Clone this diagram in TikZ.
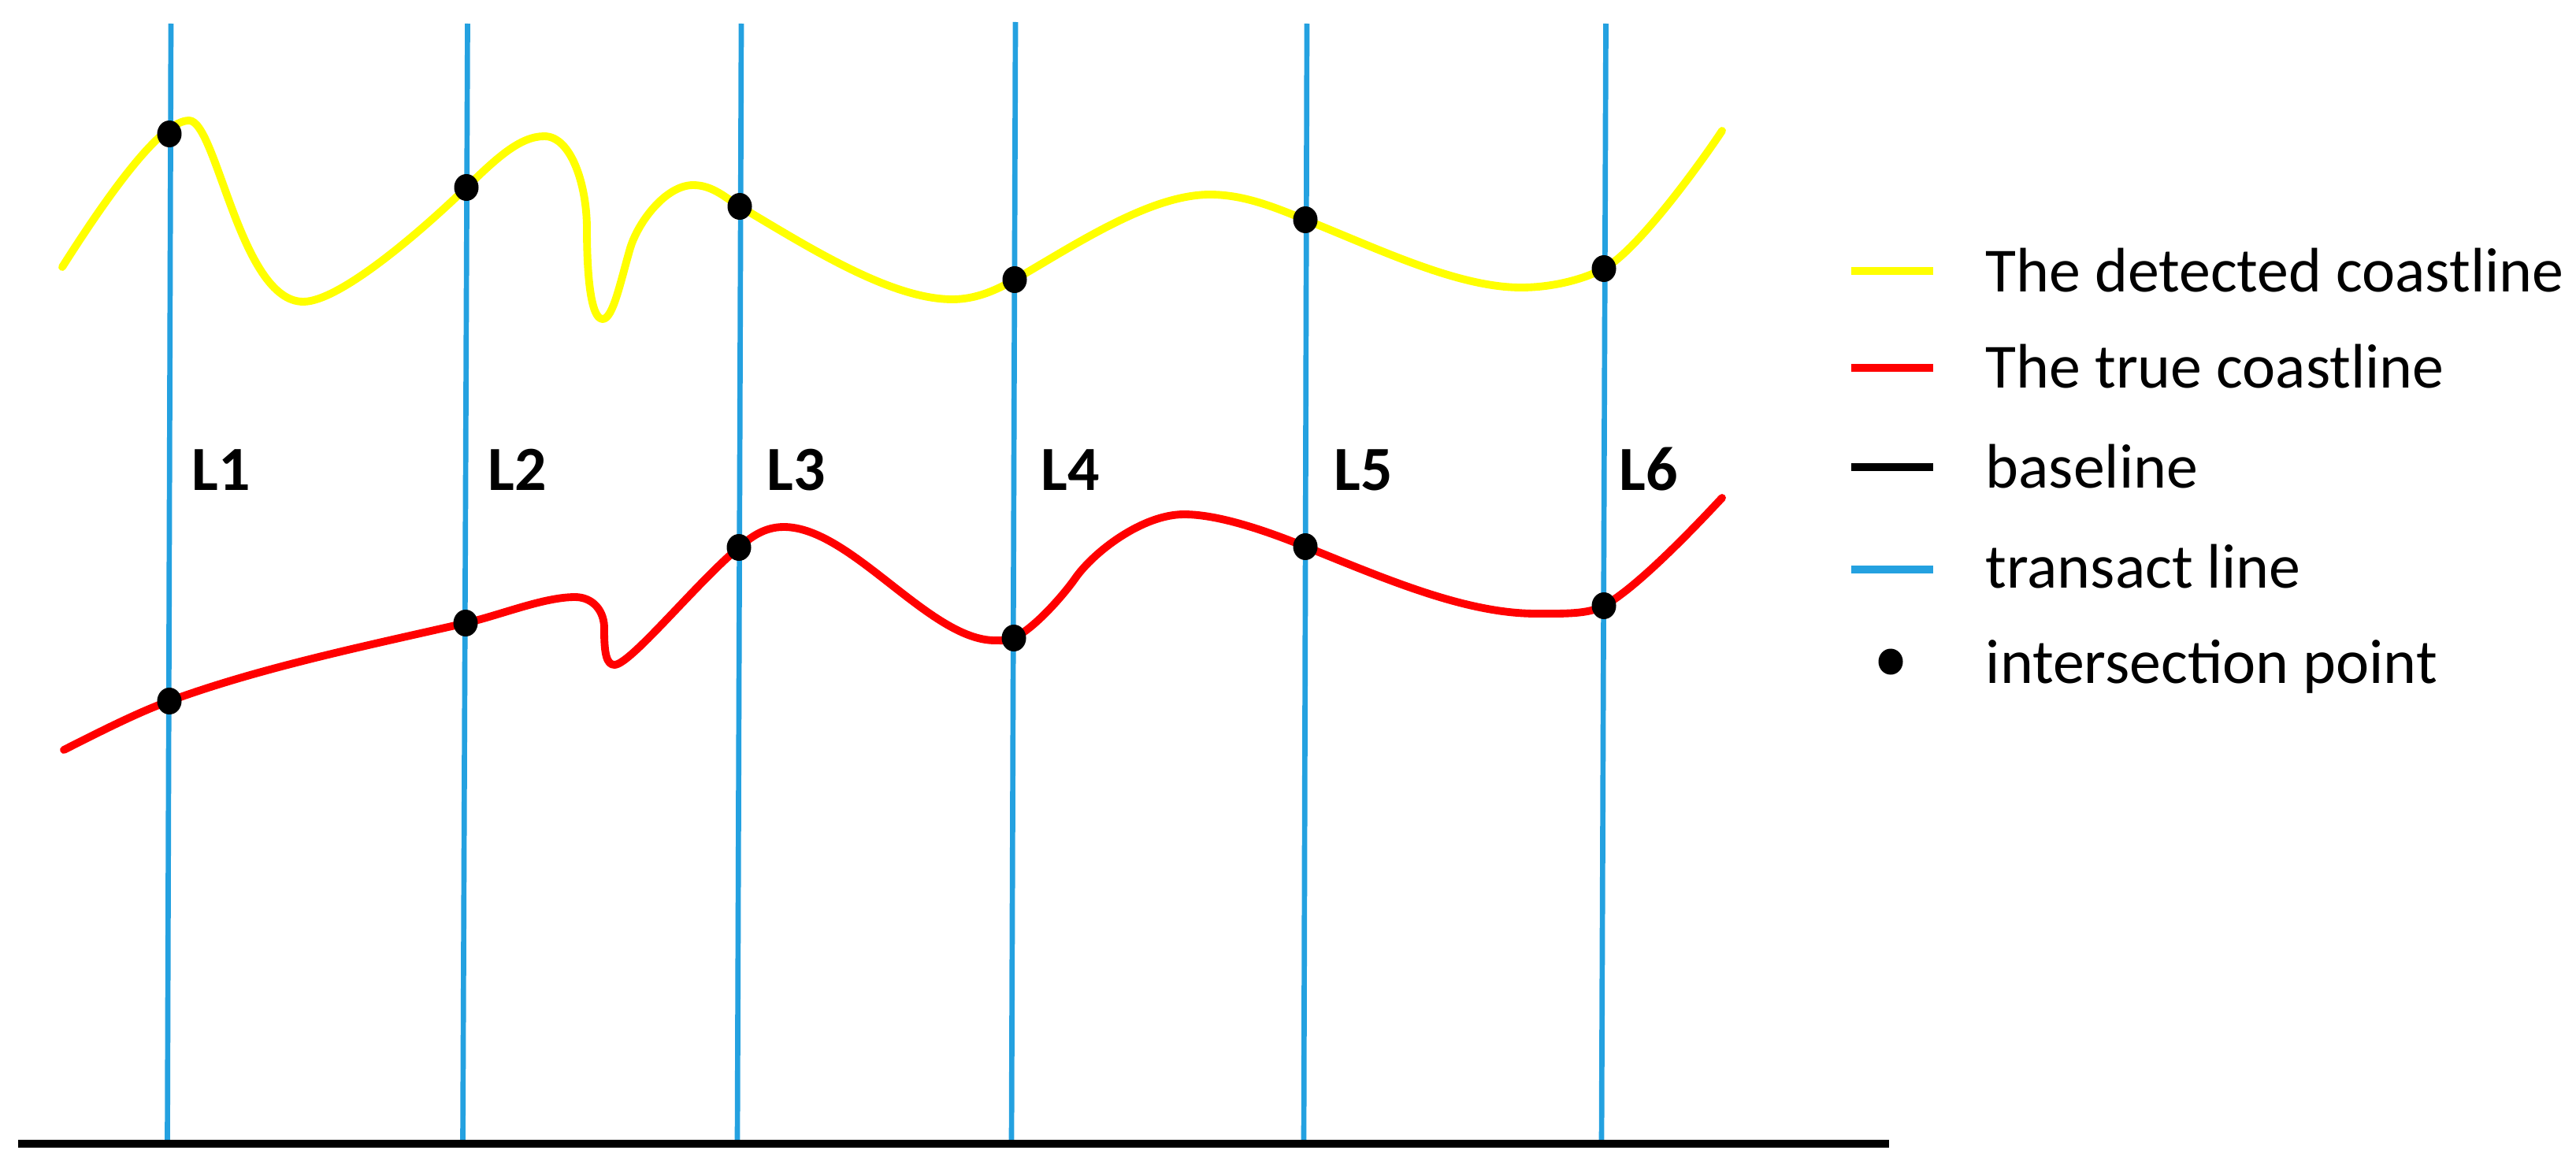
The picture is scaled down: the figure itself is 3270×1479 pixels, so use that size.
\documentclass[tikz,border=0pt]{standalone}
\usepackage{fontspec}
\setmainfont{Carlito}
\usetikzlibrary{shapes.geometric}
\definecolor{tblue}{RGB}{36,161,224}
\definecolor{cyel}{RGB}{255,255,0}
\definecolor{cred}{RGB}{255,0,0}
\tikzset{
  transect/.style={draw=tblue, line width=1.9pt},
  yelline/.style={draw=cyel, line width=2.8pt, line cap=round, line join=round},
  redline/.style={draw=cred, line width=2.8pt, line cap=round, line join=round},
  baseln/.style={draw=black, line width=2.9pt},
  legline/.style={line width=3.1pt},
  ipoint/.style={ellipse, fill=black, inner sep=0pt, minimum width=0.31cm, minimum height=0.34cm},
  tlabel/.style={font=\fontsize{22.7}{27}\selectfont\bfseries, anchor=base west, inner sep=0pt},
  legtext/.style={font=\fontsize{22.7}{27}\selectfont, anchor=base west, inner sep=0pt},
}
\begin{document}
\begin{tikzpicture}[x=0.01cm, y=-0.01cm]
\useasboundingbox[fill=white] (0,0) rectangle (3270,1479);
% transect ends
\coordinate (t1a) at (217,30);   \coordinate (t1b) at (212.5,1452);
\coordinate (t2a) at (593.5,30); \coordinate (t2b) at (587.5,1452);
\coordinate (t3a) at (941,30);   \coordinate (t3b) at (936,1452);
\coordinate (t4a) at (1289,28);  \coordinate (t4b) at (1284,1452);
\coordinate (t5a) at (1659,30);  \coordinate (t5b) at (1655,1452);
\coordinate (t6a) at (2038.5,30);\coordinate (t6b) at (2033,1452);
\coordinate (b0) at (23,1452); \coordinate (b1) at (2398,1452);
% intersection coordinates
\coordinate (cy1) at (215,170);  \coordinate (cy2) at (592,238);
\coordinate (cy3) at (939,262);  \coordinate (cy4) at (1288,355);
\coordinate (cy5) at (1657,279); \coordinate (cy6) at (2036,341);
\coordinate (cr1) at (215,890);  \coordinate (cr2) at (591,791);
\coordinate (cr3) at (938,695);  \coordinate (cr4) at (1287,810);
\coordinate (cr5) at (1657,694); \coordinate (cr6) at (2036,769);
% transect lines
\foreach \i in {1,...,6} \draw[transect] (t\i a) -- (t\i b);
% baseline
\draw[baseln] (b0) -- (b1);
% detected coastline
\draw[yelline] (79,339) .. controls (140,243) and (205,153) .. (240,153)
 .. controls (275,153) and (305,383) .. (385,383)
 .. controls (430,383) and (530,298) .. (cy2)
 .. controls (630,201) and (660,173) .. (691,173)
 .. controls (725,173) and (745,235) .. (745,290)
 .. controls (745,350) and (750,405) .. (765,405)
 .. controls (778,405) and (787,360) .. (800,315)
 .. controls (810,282) and (845,235) .. (880,235)
 .. controls (905,235) and (922,252) .. (cy3)
 .. controls (1025,313) and (1130,380) .. (1209,380)
 .. controls (1240,380) and (1266,367.5) .. (cy4)
 .. controls (1366,310) and (1460,247) .. (1536,247)
 .. controls (1580,247) and (1620,264) .. (cy5)
 .. controls (1750,316) and (1850,365) .. (1931,365)
 .. controls (1970,365) and (2009.5,355) .. (cy6)
 .. controls (2080,317.5) and (2164,199.5) .. (2186,166);
% true coastline
\draw[redline] (81,952) .. controls (121,932) and (173,905) .. (cr1)
 .. controls (332,847) and (469,819) .. (cr2)
 .. controls (635,781) and (690,758) .. (730,758)
 .. controls (752,758) and (768,775) .. (767,800)
 .. controls (767,830) and (770,844) .. (780,844)
 .. controls (800,844) and (884,740) .. (cr3)
 .. controls (953,682) and (970,669) .. (995,669)
 .. controls (1080,669) and (1180,813) .. (1263,813)
 .. controls (1275,813) and (1278,814) .. (cr4)
 .. controls (1314,797) and (1350.7,754.5) .. (1365,734)
 .. controls (1388,701) and (1450,653) .. (1503,653)
 .. controls (1550,653) and (1615,677) .. (cr5)
 .. controls (1759,735) and (1860,779) .. (1950,779)
 .. controls (1985,779) and (2016,780) .. (cr6)
 .. controls (2080,745) and (2159,661) .. (2186,632);
% intersection points
\foreach \n in {y1,y2,y3,y4,y5,y6,r1,r2,r3,r4,r5,r6}
  \node[ipoint] (\n) at (c\n) {};
% labels
\node[tlabel] (l1) at (243,622) {L1};
\node[tlabel] (l2) at (619,622) {L2};
\node[tlabel] (l3) at (973,622) {L3};
\node[tlabel] (l4) at (1321,622) {L4};
\node[tlabel] (l5) at (1693,622) {L5};
\node[tlabel] (l6) at (2055,622) {L6};
% legend
\coordinate (g1a) at (2350,344); \coordinate (g1b) at (2454,344);
\coordinate (g2a) at (2350,467); \coordinate (g2b) at (2454,467);
\coordinate (g3a) at (2350,593); \coordinate (g3b) at (2454,593);
\coordinate (g4a) at (2350,723); \coordinate (g4b) at (2454,723);
\draw[legline, draw=cyel] (g1a) -- (g1b);
\draw[legline, draw=cred] (g2a) -- (g2b);
\draw[legline, draw=black] (g3a) -- (g3b);
\draw[legline, draw=tblue] (g4a) -- (g4b);
\node[ipoint, minimum width=0.31cm, minimum height=0.33cm] (g5) at (2400,840) {};
\node[legtext] (e1) at (2520,370) {The detected coastline};
\node[legtext] (e2) at (2520,492) {The true coastline};
\node[legtext] (e3) at (2520,619) {baseline};
\node[legtext] (e4) at (2520,746) {transact line};
\node[legtext] (e5) at (2520,867) {intersection point};
\end{tikzpicture}
\end{document}
